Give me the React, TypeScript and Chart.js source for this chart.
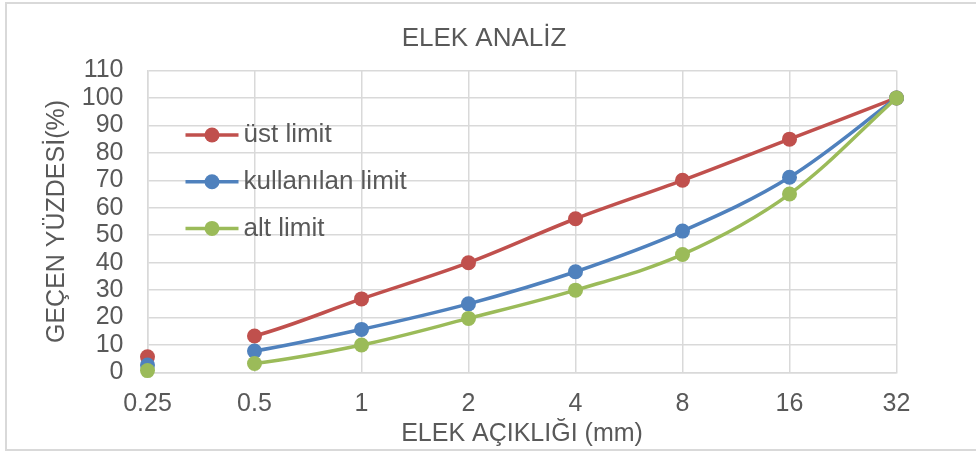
import React, { useEffect, useRef } from "react";
import { Chart, registerables } from "chart.js";

Chart.register(...registerables);

// Sieve openings (mm) on the category axis
const sieveSizes = ["0.25", "0.5", "1", "2", "4", "8", "16", "32"];

// Passing percentages per grading curve
const upperLimit = [5.7, 13.3, 26.8, 40, 56, 70, 85, 100];
const usedGrading = [2.7, 7.8, 15.7, 25, 36.7, 51.5, 71.1, 100];
const lowerLimit = [0.7, 3.3, 10, 19.7, 30, 43, 65, 100];

const seriesNames = ["üst limit", "kullanılan limit", "alt limit"];
const seriesColors = ["#C0504D", "#4F81BD", "#9BBB59"];

const yMin = 0;
const yMax = 110;
const yStep = 10;

const FONT = "'Liberation Sans', Arial, sans-serif";
const TEXT = "#595959";
const GRID = "#D9D9D9";

// Legend drawn inside the plot area, stacked at the upper left
const insideLegend = {
  id: "insideLegend",
  afterDraw(chart: any) {
    const { ctx, chartArea } = chart;
    ctx.save();
    chart.data.datasets.forEach((ds: any, i: number) => {
      const y = chartArea.top + 64.5 + i * 46.7;
      const x0 = chartArea.left + 38;
      const x1 = x0 + 53;
      ctx.strokeStyle = ds.borderColor;
      ctx.lineWidth = 3.5;
      ctx.beginPath();
      ctx.moveTo(x0, y);
      ctx.lineTo(x1, y);
      ctx.stroke();
      ctx.fillStyle = ds.borderColor;
      ctx.beginPath();
      ctx.arc((x0 + x1) / 2, y, 7.5, 0, Math.PI * 2);
      ctx.fill();
      ctx.fillStyle = TEXT;
      ctx.font = `26px ${FONT}`;
      ctx.textAlign = "left";
      ctx.textBaseline = "middle";
      ctx.fillText(ds.label, x1 + 5, y);
    });
    ctx.restore();
  },
};

export default function App() {
  const canvasRef = useRef<HTMLCanvasElement | null>(null);

  useEffect(() => {
    const canvas = canvasRef.current;
    if (!canvas) return;
    const series = [upperLimit, usedGrading, lowerLimit];
    const chart = new Chart(canvas, {
      type: "line",
      data: {
        labels: sieveSizes,
        datasets: series.map((values, i) => ({
          label: seriesNames[i],
          data: values,
          borderColor: seriesColors[i],
          backgroundColor: seriesColors[i],
          pointBackgroundColor: seriesColors[i],
          pointBorderColor: seriesColors[i],
          pointBorderWidth: 0,
          pointRadius: 7.5,
          borderWidth: 3.5,
          tension: 0.35,
          clip: false as any,
          order: series.length - 1 - i,
          segment: {
            // no connecting line between the first two sieves
            borderColor: (c: any) => (c.p0DataIndex === 0 ? "rgba(0,0,0,0)" : undefined),
          },
        })),
      },
      options: {
        responsive: false,
        animation: false,
        events: [],
        layout: { padding: { left: 0, right: 8, top: 0, bottom: 0 } },
        plugins: {
          legend: { display: false },
          tooltip: { enabled: false },
          title: {
            display: true,
            text: "ELEK ANALİZ",
            color: TEXT,
            font: { family: FONT, size: 26, weight: "normal" as any },
            padding: { top: 23, bottom: 16.3 },
          },
        },
        scales: {
          x: {
            type: "category",
            offset: false,
            grid: { color: GRID, lineWidth: 1.5, drawTicks: false },
            border: { color: GRID, width: 1.5 },
            ticks: {
              color: TEXT,
              font: { family: FONT, size: 25 },
              padding: 17,
              maxRotation: 0,
              autoSkip: false,
            },
            title: {
              display: true,
              text: "ELEK AÇIKLIĞI (mm)",
              color: TEXT,
              font: { family: FONT, size: 25 },
              padding: { top: 0, bottom: 4 },
            },
            afterFit(s: any) {
              s.height = 80.5;
              s.paddingRight = 79.5;
            },
          },
          y: {
            min: yMin,
            max: yMax,
            grid: { color: GRID, lineWidth: 1.5, drawTicks: false },
            border: { color: GRID, width: 1.5 },
            ticks: {
              stepSize: yStep,
              autoSkip: false,
              color: TEXT,
              font: { family: FONT, size: 25 },
              padding: 24,
            },
            title: {
              display: true,
              text: "GEÇEN YÜZDESİ(%)",
              color: TEXT,
              font: { family: FONT, size: 25 },
              padding: { top: 42, bottom: 0 },
            },
            afterFit(s: any) {
              s.width = 147.5;
            },
          },
        },
      },
      plugins: [insideLegend],
    });
    return () => chart.destroy();
  }, []);

  return (
    <div
      style={{
        position: "fixed",
        left: 0,
        top: 0,
        width: 976,
        height: 453,
        overflow: "hidden",
        background: "#ffffff",
      }}
    >
      <div
        style={{
          position: "absolute",
          left: 5,
          top: 2,
          width: 1000,
          height: 449,
          boxSizing: "border-box",
          border: `2px solid ${GRID}`,
        }}
      />
      <canvas
        ref={canvasRef}
        width={976}
        height={453}
        style={{ position: "absolute", left: 0, top: 0 }}
      />
    </div>
  );
}
